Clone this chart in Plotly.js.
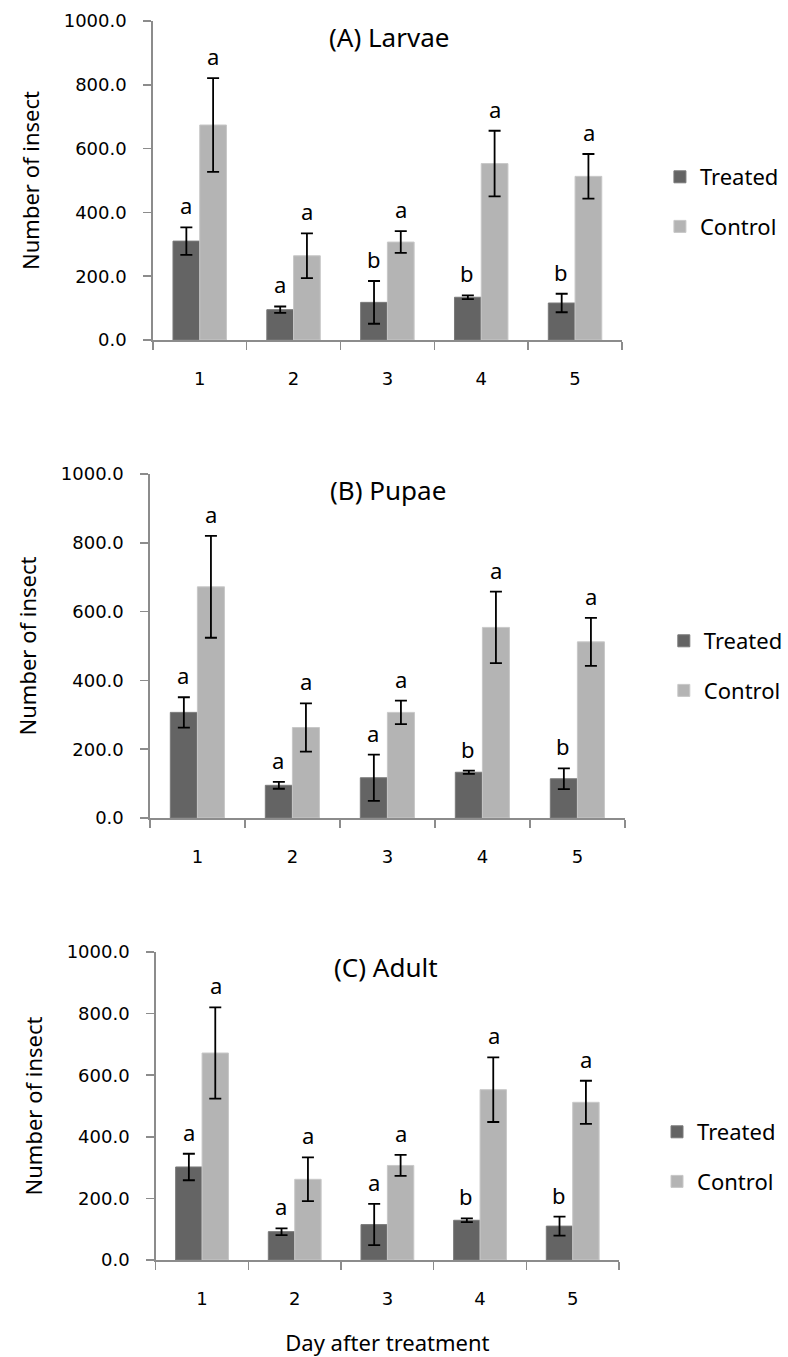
<!DOCTYPE html>
<html>
<head>
<meta charset="utf-8">
<script src="https://cdn.plot.ly/plotly-3.0.1.min.js"></script>
<style>html,body{margin:0;padding:0;background:#fff;}#chart{width:788px;height:1357px;}</style>
</head>
<body>
<div id="chart"></div>
<script>
// ---- Data ----
const days = ['1', '2', '3', '4', '5'];
const seriesNames = ['Treated', 'Control'];
const panelTitles = ['(A) Larvae', '(B) Pupae', '(C) Adult'];
const yTickVals = [0, 200, 400, 600, 800, 1000];

const larvaeTreated = [310, 95, 118, 134, 116];
const larvaeTreatedErr = [43, 10, 67, 6, 29];
const larvaeControl = [674, 264, 307, 553, 513];
const larvaeControlErr = [147, 70, 34, 103, 70];
const larvaeTreatedLetters = ['a', 'a', 'b', 'b', 'b'];
const larvaeControlLetters = ['a', 'a', 'a', 'a', 'a'];

const pupaeTreated = [307, 95, 117, 133, 114];
const pupaeTreatedErr = [44, 10, 67, 5, 30];
const pupaeControl = [672, 263, 307, 554, 512];
const pupaeControlErr = [148, 70, 34, 104, 70];
const pupaeTreatedLetters = ['a', 'a', 'a', 'b', 'b'];
const pupaeControlLetters = ['a', 'a', 'a', 'a', 'a'];

const adultTreated = [302, 92, 115, 129, 110];
const adultTreatedErr = [43, 11, 67, 6, 31];
const adultControl = [672, 262, 307, 553, 512];
const adultControlErr = [148, 71, 34, 105, 70];
const adultTreatedLetters = ['a', 'a', 'a', 'b', 'b'];
const adultControlLetters = ['a', 'a', 'a', 'a', 'a'];

// ---- Layout helpers (pixel geometry) ----
const W = 788, H = 1357;
const fx = p => p / W;
const fy = p => 1 - p / H;
const BARGAP = 0.43;
const TREATED_COLOR = '#646464';
const CONTROL_COLOR = '#b4b4b4';
const AXIS_COLOR = '#8c8c8c';
const TICK_FONT = {family: 'DejaVu Sans', size: 18, color: '#000'};
const TEXT_FONT = 'Noto Sans';

const panels = [
  {t: larvaeTreated, te: larvaeTreatedErr, c: larvaeControl, ce: larvaeControlErr,
   tl: larvaeTreatedLetters, cl: larvaeControlLetters,
   px: [157, 639], py: [21, 340], title: [400, 37], legendTop: 156, legendX: 678},
  {t: pupaeTreated, te: pupaeTreatedErr, c: pupaeControl, ce: pupaeControlErr,
   tl: pupaeTreatedLetters, cl: pupaeControlLetters,
   px: [154, 642], py: [474, 818], title: [399, 490], legendTop: 620, legendX: 682},
  {t: adultTreated, te: adultTreatedErr, c: adultControl, ce: adultControlErr,
   tl: adultTreatedLetters, cl: adultControlLetters,
   px: [160, 636], py: [952, 1260], title: [397, 967], legendTop: 1111, legendX: 675}
];

const data = [];
const annotations = [];
const layout = {
  width: W, height: H,
  margin: {l: 0, r: 0, t: 0, b: 0},
  paper_bgcolor: '#fff', plot_bgcolor: '#fff',
  barmode: 'group', bargap: BARGAP, bargroupgap: 0,
  showlegend: true,
  annotations: annotations
};

panels.forEach((p, i) => {
  const n = i + 1;
  const xa = n === 1 ? 'x' : 'x' + n;
  const ya = n === 1 ? 'y' : 'y' + n;
  const legName = n === 1 ? 'legend' : 'legend' + n;
  const xKey = n === 1 ? 'xaxis' : 'xaxis' + n;
  const yKey = n === 1 ? 'yaxis' : 'yaxis' + n;

  const mk = (name, vals, errs, color, lineColor) => ({
    type: 'bar', name: name, x: days, y: vals,
    xaxis: xa, yaxis: ya, legend: legName, legendgroup: legName + name,
    marker: {color: color, line: {color: lineColor, width: 1}},
    error_y: {type: 'data', array: errs, visible: true, color: '#000', thickness: 1.8, width: 6},
    hoverinfo: 'skip'
  });
  data.push(mk(seriesNames[0], p.t, p.te, TREATED_COLOR, '#7a7a7a'));
  data.push(mk(seriesNames[1], p.c, p.ce, CONTROL_COLOR, '#c8c8c8'));

  layout[xKey] = {
    domain: [fx(p.px[0]), fx(p.px[1])], anchor: ya,
    type: 'category', range: [-0.5, 4.5], tickson: 'boundaries',
    ticks: 'outside', ticklen: 8, tickwidth: 1.5, tickcolor: AXIS_COLOR,
    showline: true, linecolor: AXIS_COLOR, linewidth: 1.5,
    showgrid: false, zeroline: false, automargin: false,
    tickfont: TICK_FONT, ticklabelstandoff: 22, fixedrange: true
  };
  layout[yKey] = {
    domain: [fy(p.py[1]), fy(p.py[0])], anchor: xa,
    range: [0, 1000], tickvals: yTickVals, tickformat: '.1f',
    ticks: 'outside', ticklen: 8, tickwidth: 1.5, tickcolor: AXIS_COLOR,
    showline: true, linecolor: AXIS_COLOR, linewidth: 1.5,
    showgrid: false, zeroline: false, automargin: false,
    tickfont: TICK_FONT, ticklabelstandoff: 13, fixedrange: true,
    title: {text: 'Number of insect', font: {family: TEXT_FONT, size: 22, color: '#000'}, standoff: 18}
  };
  if (n === 3) {
    layout[xKey].title = {text: 'Day after treatment', font: {family: TEXT_FONT, size: 22, color: '#000'}, standoff: 30};
  }

  layout[legName] = {
    x: fx(p.legendX), xanchor: 'left', y: fy(p.legendTop), yanchor: 'top',
    font: {family: TEXT_FONT, size: 22, color: '#000'},
    bgcolor: 'rgba(0,0,0,0)', traceorder: 'grouped', tracegroupgap: 18
  };

  annotations.push({
    xref: 'paper', yref: 'paper', x: fx(p.title[0]), y: fy(p.title[1]),
    xanchor: 'center', yanchor: 'middle', showarrow: false,
    text: panelTitles[i], font: {family: TEXT_FONT, size: 26, color: '#000'}
  });

  const catPx = (p.px[1] - p.px[0]) / days.length;
  const half = catPx * (1 - BARGAP) / 4;
  days.forEach((d, k) => {
    annotations.push({xref: xa, yref: ya, x: k, y: p.t[k] + p.te[k], xshift: -half, yshift: 22,
      xanchor: 'center', yanchor: 'middle', showarrow: false, text: p.tl[k],
      font: {family: TEXT_FONT, size: 22, color: '#000'}});
    annotations.push({xref: xa, yref: ya, x: k, y: p.c[k] + p.ce[k], xshift: half, yshift: 22,
      xanchor: 'center', yanchor: 'middle', showarrow: false, text: p.cl[k],
      font: {family: TEXT_FONT, size: 22, color: '#000'}});
  });
});

Plotly.newPlot('chart', data, layout, {staticPlot: true, displayModeBar: false});
</script>
</body>
</html>
